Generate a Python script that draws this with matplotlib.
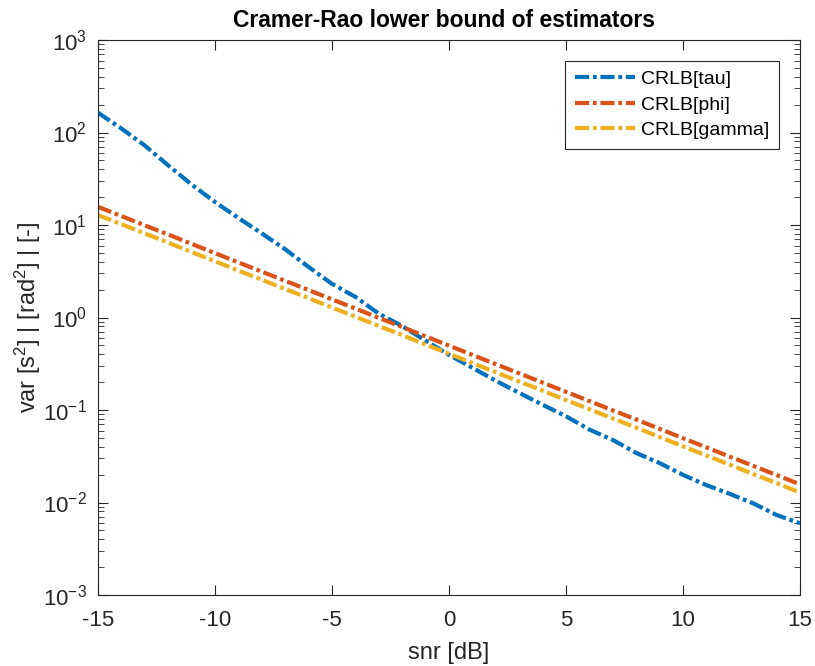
import matplotlib
matplotlib.use("Agg")
import matplotlib.pyplot as plt
from matplotlib.ticker import LogLocator, FixedLocator, NullFormatter, LogFormatterSciNotation

# snr axis [dB]
snr_db = [-15, -14, -13, -12, -11, -10, -9, -8, -7, -6, -5, -4, -3, -2, -1, 0,
          1, 2, 3, 4, 5, 6, 7, 8, 9, 10, 11, 12, 13, 14, 15]

# values (log axis)
crlb_tau = [163.7, 110.4, 72.3, 44.1, 27.4, 17.7, 11.9, 8.11, 5.46, 3.52, 2.31,
            1.67, 1.10, 0.807, 0.562, 0.394, 0.286, 0.207, 0.153, 0.114, 0.0855,
            0.0614, 0.0475, 0.0343, 0.0267, 0.0199, 0.0154, 0.0124, 0.0098,
            0.00733, 0.00596]
crlb_phi = [15.7, 12.5, 9.9, 7.9, 6.25, 4.96, 3.94, 3.13, 2.49, 1.98, 1.57,
            1.25, 0.99, 0.79, 0.625, 0.496, 0.394, 0.313, 0.249, 0.198, 0.157,
            0.125, 0.099, 0.079, 0.0625, 0.0496, 0.0394, 0.0313, 0.0249,
            0.0198, 0.0157]
crlb_gamma = [12.8, 10.2, 8.1, 6.45, 5.1, 4.05, 3.22, 2.56, 2.03, 1.62, 1.28,
              1.02, 0.81, 0.645, 0.51, 0.405, 0.322, 0.256, 0.203, 0.162, 0.128,
              0.102, 0.081, 0.0645, 0.051, 0.0405, 0.0322, 0.0256, 0.0203,
              0.0162, 0.0128]

series = [("CRLB[tau]", crlb_tau, "#0072BD"),
          ("CRLB[phi]", crlb_phi, "#D95319"),
          ("CRLB[gamma]", crlb_gamma, "#EDB120")]

plt.rcParams.update({
    "font.family": ["Liberation Sans", "DejaVu Sans"],
    "mathtext.fontset": "custom",
    "mathtext.rm": "Liberation Sans",
    "mathtext.it": "Liberation Sans:italic",
    "mathtext.bf": "Liberation Sans:bold",
    "axes.unicode_minus": False,
    "xtick.direction": "in",
    "ytick.direction": "in",
    "xtick.top": True,
    "ytick.right": True,
})

ax_color = "#262626"
fig = plt.figure(figsize=(8.15, 6.66), dpi=100)
ax = fig.add_axes([98 / 815, 1 - 595 / 666, 702 / 815, 555 / 666])

# matlab style '-.'
dash = (0, (3.4, 0.9, 0.9, 0.9))
for label, vals, col in series:
    ax.plot(snr_db, vals, color=col, lw=3, ls=dash, dash_capstyle="butt",
            label=label)

ax.set_yscale("log")
ax.set_xlim(-15, 15)
ax.set_ylim(1e-3, 1e3)
ax.xaxis.set_major_locator(FixedLocator([-15, -10, -5, 0, 5, 10, 15]))
ax.yaxis.set_major_locator(LogLocator(base=10, numticks=10))
ax.yaxis.set_major_formatter(LogFormatterSciNotation())
ax.yaxis.set_minor_locator(LogLocator(base=10, subs=range(2, 10), numticks=20))
ax.yaxis.set_minor_formatter(NullFormatter())

ax.tick_params(which="major", length=7, width=0.8, labelsize=16, colors=ax_color)
ax.tick_params(axis="x", which="major", pad=11)
ax.tick_params(axis="y", which="major", pad=8)
ax.tick_params(which="minor", length=4, width=0.6, colors=ax_color)
for sp in ax.spines.values():
    sp.set_color(ax_color)
    sp.set_linewidth(0.8)

ax.set_xlabel("snr [dB]", fontsize=17, color=ax_color, labelpad=8)
ax.set_ylabel("var [s$^2$] | [rad$^2$] | [-]", fontsize=17, color=ax_color)
ax.yaxis.set_label_coords(-0.078, 0.5)
ax.set_title("Cramer-Rao lower bound of estimators", fontsize=16.5,
             fontweight="bold", pad=9.5, x=0.493)

leg = ax.legend(loc="upper right", fontsize=14, borderaxespad=1.07,
                handlelength=3.1, fancybox=False, framealpha=1,
                edgecolor=ax_color, borderpad=0.5, labelspacing=0.4,
                handletextpad=0.3)
leg.get_frame().set_linewidth(0.8)

fig.savefig("out.png", dpi=100)
